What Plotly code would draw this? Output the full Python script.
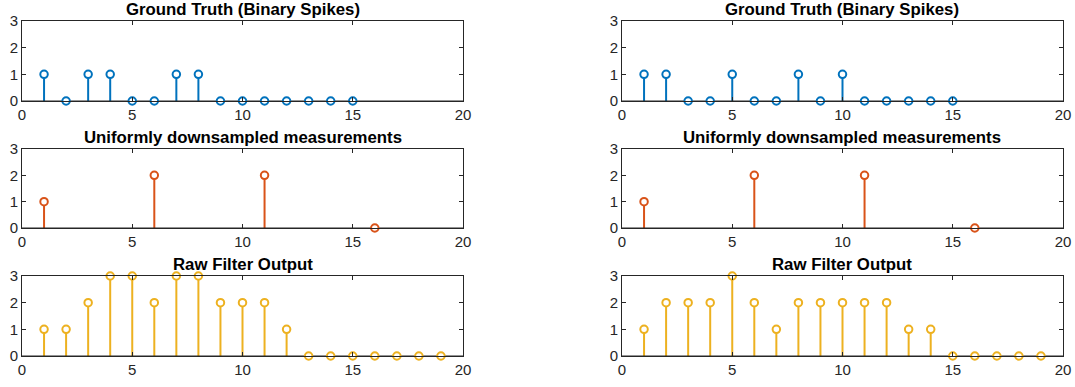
import plotly.graph_objects as go

# Sample indices and values for each panel
truth_x_a = list(range(1, 16))
truth_y_a = [1, 0, 1, 1, 0, 0, 1, 1, 0, 0, 0, 0, 0, 0, 0]
down_x_a = [1, 6, 11, 16]
down_y_a = [1, 2, 2, 0]
filt_x_a = list(range(1, 20))
filt_y_a = [1, 1, 2, 3, 3, 2, 3, 3, 2, 2, 2, 1, 0, 0, 0, 0, 0, 0, 0]

truth_x_b = list(range(1, 16))
truth_y_b = [1, 1, 0, 0, 1, 0, 0, 1, 0, 1, 0, 0, 0, 0, 0]
down_x_b = [1, 6, 11, 16]
down_y_b = [1, 2, 2, 0]
filt_x_b = list(range(1, 20))
filt_y_b = [1, 2, 2, 2, 3, 2, 1, 2, 2, 2, 2, 2, 1, 1, 0, 0, 0, 0, 0]

titles = ["Ground Truth (Binary Spikes)", "Uniformly downsampled measurements", "Raw Filter Output"]
colors = ["#0072BD", "#D95319", "#EDB120"]

W, H = 1075, 387
col_px = [(22, 463), (622, 1063)]
row_px = [(21, 101), (149, 228), (276, 356)]

panels = [
    [(truth_x_a, truth_y_a), (down_x_a, down_y_a), (filt_x_a, filt_y_a)],
    [(truth_x_b, truth_y_b), (down_x_b, down_y_b), (filt_x_b, filt_y_b)],
]

fig = go.Figure()
layout = {}
annotations = []
ax_i = 0
for c in range(2):
    for r in range(3):
        ax_i += 1
        xs, ys = panels[c][r]
        xa = "x" if ax_i == 1 else f"x{ax_i}"
        ya = "y" if ax_i == 1 else f"y{ax_i}"
        color = colors[r]
        # stems
        sx, sy = [], []
        for x, y in zip(xs, ys):
            sx += [x, x, None]
            sy += [0, y, None]
        fig.add_trace(go.Scatter(x=sx, y=sy, mode="lines", xaxis=xa, yaxis=ya,
                                 line=dict(color=color, width=2), showlegend=False,
                                 hoverinfo="skip", cliponaxis=False))
        # baseline
        fig.add_trace(go.Scatter(x=[0, 20], y=[0, 0], mode="lines", xaxis=xa, yaxis=ya,
                                 line=dict(color="#262626", width=1), showlegend=False,
                                 hoverinfo="skip"))
        # markers
        fig.add_trace(go.Scatter(x=xs, y=ys, mode="markers", xaxis=xa, yaxis=ya,
                                 marker=dict(symbol="circle", size=7.5, color="white",
                                             line=dict(color=color, width=2)),
                                 showlegend=False, cliponaxis=False))
        x0, x1 = col_px[c]
        y0, y1 = row_px[r]
        dom_x = [x0 / W, x1 / W]
        dom_y = [1 - y1 / H, 1 - y0 / H]
        common = dict(showline=True, linecolor="#262626", linewidth=1, mirror="ticks",
                      ticks="inside", ticklen=4, tickcolor="#262626", tickwidth=1,
                      showgrid=False, zeroline=False, automargin=False,
                      tickfont=dict(family="Liberation Sans, Arial", size=15, color="#262626"))
        layout["xaxis" if ax_i == 1 else f"xaxis{ax_i}"] = dict(
            domain=dom_x, range=[0, 20], tickvals=[0, 5, 10, 15, 20], anchor=ya, **common)
        layout["yaxis" if ax_i == 1 else f"yaxis{ax_i}"] = dict(
            domain=dom_y, range=[0, 3], tickvals=[0, 1, 2, 3], anchor=xa, **common)
        annotations.append(dict(text=f"<b>{titles[r]}</b>", x=(dom_x[0] + dom_x[1]) / 2,
                                y=dom_y[1], xref="paper", yref="paper", xanchor="center",
                                yanchor="bottom", showarrow=False, yshift=0,
                                font=dict(family="Liberation Sans, Arial", size=16.8, color="black")))

fig.update_layout(width=W, height=H, margin=dict(l=0, r=0, t=0, b=0, autoexpand=False),
                  plot_bgcolor="white", paper_bgcolor="white",
                  annotations=annotations, **layout)
fig.write_html("out.html")
